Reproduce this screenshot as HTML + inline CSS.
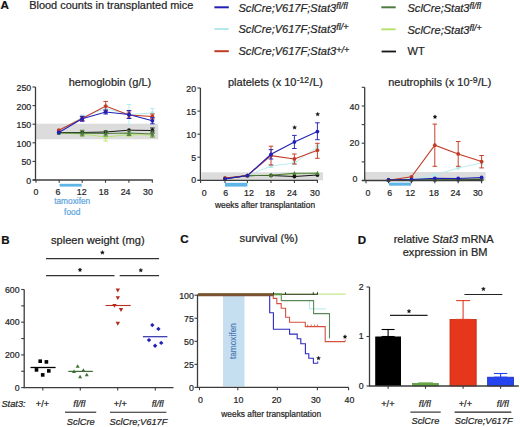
<!DOCTYPE html>
<html><head><meta charset="utf-8"><style>
html,body{margin:0;padding:0;background:#fff;width:520px;height:427px;overflow:hidden}
svg{display:block;font-family:"Liberation Sans",sans-serif}

</style></head><body>
<svg width="520" height="427" viewBox="0 0 520 427">
<text x="0.6" y="9.2" font-size="11.6" text-anchor="start" font-style="normal" font-weight="bold" fill="#111" stroke="#111" stroke-width="0.22" >A</text>
<text x="29.2" y="9.4" font-size="10.95" text-anchor="start" font-style="normal" font-weight="normal" fill="#262626" stroke="#262626" stroke-width="0.22" >Blood counts in transplanted mice</text>
<line x1="214.4" y1="7.3" x2="228.8" y2="7.3" stroke="#2020b8" stroke-width="2.0" />
<text x="238.5" y="11.5" font-size="11.05" font-style="italic" fill="#262626" stroke="#262626" stroke-width="0.22">SclCre;V617F;Stat3<tspan font-size="9" dy="-2.9">fl/fl</tspan></text>
<line x1="214.4" y1="29.0" x2="228.8" y2="29.0" stroke="#b4eaec" stroke-width="2.0" />
<text x="238.5" y="33.2" font-size="11.05" font-style="italic" fill="#262626" stroke="#262626" stroke-width="0.22">SclCre;V617F;Stat3<tspan font-size="9" dy="-2.9">fl/+</tspan></text>
<line x1="214.4" y1="51.2" x2="228.8" y2="51.2" stroke="#c23a24" stroke-width="2.0" />
<text x="238.5" y="55.400000000000006" font-size="11.05" font-style="italic" fill="#262626" stroke="#262626" stroke-width="0.22">SclCre;V617F;Stat3<tspan font-size="9" dy="-2.9">+/+</tspan></text>
<line x1="381.3" y1="7.3" x2="395.7" y2="7.3" stroke="#4e7c3e" stroke-width="2.0" />
<text x="407.5" y="11.5" font-size="11.05" font-style="italic" fill="#262626" stroke="#262626" stroke-width="0.22">SclCre;Stat3<tspan font-size="9" dy="-2.9">fl/fl</tspan></text>
<line x1="381.3" y1="29.3" x2="395.7" y2="29.3" stroke="#b8e272" stroke-width="2.0" />
<text x="407.5" y="33.5" font-size="11.05" font-style="italic" fill="#262626" stroke="#262626" stroke-width="0.22">SclCre;Stat3<tspan font-size="9" dy="-2.9">fl/+</tspan></text>
<line x1="381.6" y1="51.5" x2="396.0" y2="51.5" stroke="#151515" stroke-width="1.8" />
<text x="407.5" y="55.4" font-size="11" text-anchor="start" font-style="normal" font-weight="normal" fill="#262626" stroke="#262626" stroke-width="0.22" >WT</text>
<rect x="36" y="123.7" width="122.30000000000001" height="15.600000000000009" fill="#dcdcdc" />
<polyline points="58.8,133 82.2,134 105.7,137 129.0,134.5 152.4,135" fill="none" stroke="#b8e272" stroke-width="1.1" stroke-linejoin="miter" />
<line x1="82.2" y1="132" x2="82.2" y2="136" stroke="#b8e272" stroke-width="0.95" />
<line x1="79.9" y1="132" x2="84.5" y2="132" stroke="#b8e272" stroke-width="0.95" />
<line x1="79.9" y1="136" x2="84.5" y2="136" stroke="#b8e272" stroke-width="0.95" />
<line x1="105.7" y1="133" x2="105.7" y2="141" stroke="#b8e272" stroke-width="0.95" />
<line x1="103.4" y1="133" x2="108.0" y2="133" stroke="#b8e272" stroke-width="0.95" />
<line x1="103.4" y1="141" x2="108.0" y2="141" stroke="#b8e272" stroke-width="0.95" />
<line x1="129.0" y1="132.5" x2="129.0" y2="136.5" stroke="#b8e272" stroke-width="0.95" />
<line x1="126.7" y1="132.5" x2="131.3" y2="132.5" stroke="#b8e272" stroke-width="0.95" />
<line x1="126.7" y1="136.5" x2="131.3" y2="136.5" stroke="#b8e272" stroke-width="0.95" />
<line x1="152.4" y1="133" x2="152.4" y2="137" stroke="#b8e272" stroke-width="0.95" />
<line x1="150.1" y1="133" x2="154.70000000000002" y2="133" stroke="#b8e272" stroke-width="0.95" />
<line x1="150.1" y1="137" x2="154.70000000000002" y2="137" stroke="#b8e272" stroke-width="0.95" />
<polygon points="58.8,130.795 56.699999999999996,134.68 60.9,134.68" fill="#b8e272"/>
<polygon points="82.2,131.795 80.10000000000001,135.68 84.3,135.68" fill="#b8e272"/>
<polygon points="105.7,134.795 103.60000000000001,138.68 107.8,138.68" fill="#b8e272"/>
<polygon points="129.0,132.295 126.9,136.18 131.1,136.18" fill="#b8e272"/>
<polygon points="152.4,132.795 150.3,136.68 154.5,136.68" fill="#b8e272"/>
<polyline points="58.8,131 82.2,117 105.7,108.5 129.0,114.5 152.4,113" fill="none" stroke="#b4eaec" stroke-width="1.0" stroke-linejoin="miter" />
<line x1="82.2" y1="115" x2="82.2" y2="119" stroke="#b4eaec" stroke-width="0.95" />
<line x1="79.9" y1="115" x2="84.5" y2="115" stroke="#b4eaec" stroke-width="0.95" />
<line x1="79.9" y1="119" x2="84.5" y2="119" stroke="#b4eaec" stroke-width="0.95" />
<line x1="105.7" y1="105.5" x2="105.7" y2="111.5" stroke="#b4eaec" stroke-width="0.95" />
<line x1="103.4" y1="105.5" x2="108.0" y2="105.5" stroke="#b4eaec" stroke-width="0.95" />
<line x1="103.4" y1="111.5" x2="108.0" y2="111.5" stroke="#b4eaec" stroke-width="0.95" />
<line x1="129.0" y1="104.5" x2="129.0" y2="124.5" stroke="#b4eaec" stroke-width="0.95" />
<line x1="126.7" y1="104.5" x2="131.3" y2="104.5" stroke="#b4eaec" stroke-width="0.95" />
<line x1="126.7" y1="124.5" x2="131.3" y2="124.5" stroke="#b4eaec" stroke-width="0.95" />
<line x1="152.4" y1="108.5" x2="152.4" y2="117.5" stroke="#b4eaec" stroke-width="0.95" />
<line x1="150.1" y1="108.5" x2="154.70000000000002" y2="108.5" stroke="#b4eaec" stroke-width="0.95" />
<line x1="150.1" y1="117.5" x2="154.70000000000002" y2="117.5" stroke="#b4eaec" stroke-width="0.95" />
<circle cx="58.8" cy="131" r="1.9" fill="#b4eaec"/>
<circle cx="82.2" cy="117" r="1.9" fill="#b4eaec"/>
<circle cx="105.7" cy="108.5" r="1.9" fill="#b4eaec"/>
<circle cx="129.0" cy="114.5" r="1.9" fill="#b4eaec"/>
<circle cx="152.4" cy="113" r="1.9" fill="#b4eaec"/>
<polyline points="58.8,132.5 82.2,132.5 105.7,132 129.0,130.2 152.4,130.5" fill="none" stroke="#151515" stroke-width="1.0" stroke-linejoin="miter" />
<line x1="152.4" y1="128.0" x2="152.4" y2="133.0" stroke="#151515" stroke-width="0.95" />
<line x1="150.1" y1="128.0" x2="154.70000000000002" y2="128.0" stroke="#151515" stroke-width="0.95" />
<line x1="150.1" y1="133.0" x2="154.70000000000002" y2="133.0" stroke="#151515" stroke-width="0.95" />
<circle cx="58.8" cy="132.5" r="1.9" fill="#151515"/>
<circle cx="82.2" cy="132.5" r="1.9" fill="#151515"/>
<circle cx="105.7" cy="132" r="1.9" fill="#151515"/>
<circle cx="129.0" cy="130.2" r="1.9" fill="#151515"/>
<circle cx="152.4" cy="130.5" r="1.9" fill="#151515"/>
<polyline points="58.8,133 82.2,133.1 105.7,133.5 129.0,133 152.4,134" fill="none" stroke="#4e7c3e" stroke-width="1.1" stroke-linejoin="miter" />
<line x1="82.2" y1="130.29999999999998" x2="82.2" y2="135.9" stroke="#4e7c3e" stroke-width="0.95" />
<line x1="79.9" y1="130.29999999999998" x2="84.5" y2="130.29999999999998" stroke="#4e7c3e" stroke-width="0.95" />
<line x1="79.9" y1="135.9" x2="84.5" y2="135.9" stroke="#4e7c3e" stroke-width="0.95" />
<line x1="105.7" y1="131.0" x2="105.7" y2="136.0" stroke="#4e7c3e" stroke-width="0.95" />
<line x1="103.4" y1="131.0" x2="108.0" y2="131.0" stroke="#4e7c3e" stroke-width="0.95" />
<line x1="103.4" y1="136.0" x2="108.0" y2="136.0" stroke="#4e7c3e" stroke-width="0.95" />
<line x1="129.0" y1="130.5" x2="129.0" y2="135.5" stroke="#4e7c3e" stroke-width="0.95" />
<line x1="126.7" y1="130.5" x2="131.3" y2="130.5" stroke="#4e7c3e" stroke-width="0.95" />
<line x1="126.7" y1="135.5" x2="131.3" y2="135.5" stroke="#4e7c3e" stroke-width="0.95" />
<line x1="152.4" y1="131" x2="152.4" y2="137" stroke="#4e7c3e" stroke-width="0.95" />
<line x1="150.1" y1="131" x2="154.70000000000002" y2="131" stroke="#4e7c3e" stroke-width="0.95" />
<line x1="150.1" y1="137" x2="154.70000000000002" y2="137" stroke="#4e7c3e" stroke-width="0.95" />
<polygon points="58.8,130.795 56.699999999999996,134.68 60.9,134.68" fill="#4e7c3e"/>
<polygon points="82.2,130.89499999999998 80.10000000000001,134.78 84.3,134.78" fill="#4e7c3e"/>
<polygon points="105.7,131.295 103.60000000000001,135.18 107.8,135.18" fill="#4e7c3e"/>
<polygon points="129.0,130.795 126.9,134.68 131.1,134.68" fill="#4e7c3e"/>
<polygon points="152.4,131.795 150.3,135.68 154.5,135.68" fill="#4e7c3e"/>
<polyline points="58.8,130.2 82.2,118.5 105.7,106.1 129.0,115 152.4,116.5" fill="none" stroke="#c23a24" stroke-width="1.1" stroke-linejoin="miter" />
<line x1="82.2" y1="116.5" x2="82.2" y2="120.5" stroke="#c23a24" stroke-width="0.95" />
<line x1="79.9" y1="116.5" x2="84.5" y2="116.5" stroke="#c23a24" stroke-width="0.95" />
<line x1="79.9" y1="120.5" x2="84.5" y2="120.5" stroke="#c23a24" stroke-width="0.95" />
<line x1="105.7" y1="101.39999999999999" x2="105.7" y2="110.8" stroke="#c23a24" stroke-width="0.95" />
<line x1="103.4" y1="101.39999999999999" x2="108.0" y2="101.39999999999999" stroke="#c23a24" stroke-width="0.95" />
<line x1="103.4" y1="110.8" x2="108.0" y2="110.8" stroke="#c23a24" stroke-width="0.95" />
<line x1="129.0" y1="112" x2="129.0" y2="118" stroke="#c23a24" stroke-width="0.95" />
<line x1="126.7" y1="112" x2="131.3" y2="112" stroke="#c23a24" stroke-width="0.95" />
<line x1="126.7" y1="118" x2="131.3" y2="118" stroke="#c23a24" stroke-width="0.95" />
<line x1="152.4" y1="114.0" x2="152.4" y2="119.0" stroke="#c23a24" stroke-width="0.95" />
<line x1="150.1" y1="114.0" x2="154.70000000000002" y2="114.0" stroke="#c23a24" stroke-width="0.95" />
<line x1="150.1" y1="119.0" x2="154.70000000000002" y2="119.0" stroke="#c23a24" stroke-width="0.95" />
<circle cx="58.8" cy="130.2" r="1.9" fill="#c23a24"/>
<circle cx="82.2" cy="118.5" r="1.9" fill="#c23a24"/>
<circle cx="105.7" cy="106.1" r="1.9" fill="#c23a24"/>
<circle cx="129.0" cy="115" r="1.9" fill="#c23a24"/>
<circle cx="152.4" cy="116.5" r="1.9" fill="#c23a24"/>
<polyline points="58.8,132.5 82.2,118.8 105.7,112 129.0,114.5 152.4,120.8" fill="none" stroke="#2020b8" stroke-width="1.1" stroke-linejoin="miter" />
<line x1="82.2" y1="116.3" x2="82.2" y2="121.3" stroke="#2020b8" stroke-width="0.95" />
<line x1="79.9" y1="116.3" x2="84.5" y2="116.3" stroke="#2020b8" stroke-width="0.95" />
<line x1="79.9" y1="121.3" x2="84.5" y2="121.3" stroke="#2020b8" stroke-width="0.95" />
<line x1="105.7" y1="110" x2="105.7" y2="114" stroke="#2020b8" stroke-width="0.95" />
<line x1="103.4" y1="110" x2="108.0" y2="110" stroke="#2020b8" stroke-width="0.95" />
<line x1="103.4" y1="114" x2="108.0" y2="114" stroke="#2020b8" stroke-width="0.95" />
<line x1="129.0" y1="110.5" x2="129.0" y2="118.5" stroke="#2020b8" stroke-width="0.95" />
<line x1="126.7" y1="110.5" x2="131.3" y2="110.5" stroke="#2020b8" stroke-width="0.95" />
<line x1="126.7" y1="118.5" x2="131.3" y2="118.5" stroke="#2020b8" stroke-width="0.95" />
<line x1="152.4" y1="117.8" x2="152.4" y2="123.8" stroke="#2020b8" stroke-width="0.95" />
<line x1="150.1" y1="117.8" x2="154.70000000000002" y2="117.8" stroke="#2020b8" stroke-width="0.95" />
<line x1="150.1" y1="123.8" x2="154.70000000000002" y2="123.8" stroke="#2020b8" stroke-width="0.95" />
<circle cx="58.8" cy="132.5" r="1.9" fill="#2020b8"/>
<circle cx="82.2" cy="118.8" r="1.9" fill="#2020b8"/>
<circle cx="105.7" cy="112" r="1.9" fill="#2020b8"/>
<circle cx="129.0" cy="114.5" r="1.9" fill="#2020b8"/>
<circle cx="152.4" cy="120.8" r="1.9" fill="#2020b8"/>
<line x1="35.5" y1="87.0" x2="35.5" y2="180.6" stroke="#3c3c3c" stroke-width="1.3" />
<line x1="32.7" y1="180.0" x2="152.8" y2="180.0" stroke="#3c3c3c" stroke-width="1.3" />
<line x1="32.5" y1="87" x2="35.5" y2="87" stroke="#3c3c3c" stroke-width="1.1" />
<line x1="32.5" y1="105.6" x2="35.5" y2="105.6" stroke="#3c3c3c" stroke-width="1.1" />
<line x1="32.5" y1="124.2" x2="35.5" y2="124.2" stroke="#3c3c3c" stroke-width="1.1" />
<line x1="32.5" y1="142.8" x2="35.5" y2="142.8" stroke="#3c3c3c" stroke-width="1.1" />
<line x1="32.5" y1="161.4" x2="35.5" y2="161.4" stroke="#3c3c3c" stroke-width="1.1" />
<line x1="32.5" y1="180.0" x2="35.5" y2="180.0" stroke="#3c3c3c" stroke-width="1.1" />
<text x="31.2" y="91.0" font-size="8.8" text-anchor="end" font-style="normal" font-weight="normal" fill="#262626" stroke="#262626" stroke-width="0.22" >250</text>
<text x="31.2" y="109.6" font-size="8.8" text-anchor="end" font-style="normal" font-weight="normal" fill="#262626" stroke="#262626" stroke-width="0.22" >200</text>
<text x="31.2" y="128.2" font-size="8.8" text-anchor="end" font-style="normal" font-weight="normal" fill="#262626" stroke="#262626" stroke-width="0.22" >150</text>
<text x="31.2" y="146.8" font-size="8.8" text-anchor="end" font-style="normal" font-weight="normal" fill="#262626" stroke="#262626" stroke-width="0.22" >100</text>
<text x="31.2" y="165.4" font-size="8.8" text-anchor="end" font-style="normal" font-weight="normal" fill="#262626" stroke="#262626" stroke-width="0.22" >50</text>
<text x="31.2" y="184.0" font-size="8.8" text-anchor="end" font-style="normal" font-weight="normal" fill="#262626" stroke="#262626" stroke-width="0.22" >0</text>
<line x1="36" y1="180.0" x2="36" y2="182.8" stroke="#3c3c3c" stroke-width="1.1" />
<line x1="59.2" y1="180.0" x2="59.2" y2="182.8" stroke="#3c3c3c" stroke-width="1.1" />
<line x1="82.2" y1="180.0" x2="82.2" y2="182.8" stroke="#3c3c3c" stroke-width="1.1" />
<line x1="105.5" y1="180.0" x2="105.5" y2="182.8" stroke="#3c3c3c" stroke-width="1.1" />
<line x1="128.9" y1="180.0" x2="128.9" y2="182.8" stroke="#3c3c3c" stroke-width="1.1" />
<line x1="152.3" y1="180.0" x2="152.3" y2="182.8" stroke="#3c3c3c" stroke-width="1.1" />
<text x="36" y="195.0" font-size="8.8" text-anchor="middle" font-style="normal" font-weight="normal" fill="#262626" stroke="#262626" stroke-width="0.22" >0</text>
<text x="57.9" y="195.0" font-size="8.8" text-anchor="middle" font-style="normal" font-weight="normal" fill="#262626" stroke="#262626" stroke-width="0.22" >6</text>
<text x="81.7" y="195.0" font-size="8.8" text-anchor="middle" font-style="normal" font-weight="normal" fill="#262626" stroke="#262626" stroke-width="0.22" >12</text>
<text x="103.7" y="195.0" font-size="8.8" text-anchor="middle" font-style="normal" font-weight="normal" fill="#262626" stroke="#262626" stroke-width="0.22" >18</text>
<text x="125.6" y="195.0" font-size="8.8" text-anchor="middle" font-style="normal" font-weight="normal" fill="#262626" stroke="#262626" stroke-width="0.22" >24</text>
<text x="147.9" y="195.0" font-size="8.8" text-anchor="middle" font-style="normal" font-weight="normal" fill="#262626" stroke="#262626" stroke-width="0.22" >30</text>
<rect x="59.6" y="183.8" width="22.1" height="2.799999999999983" fill="#5fb5e6" />
<text x="68.7" y="86.2" font-size="11" text-anchor="start" font-style="normal" font-weight="normal" fill="#262626" stroke="#262626" stroke-width="0.22" >hemoglobin (g/L)</text>
<text x="72.2" y="204.0" font-size="8.3" text-anchor="middle" font-style="normal" font-weight="normal" fill="#5ea6dc" stroke="#5ea6dc" stroke-width="0.22" >tamoxifen</text>
<text x="72.2" y="214.8" font-size="8.3" text-anchor="middle" font-style="normal" font-weight="normal" fill="#5ea6dc" stroke="#5ea6dc" stroke-width="0.22" >food</text>
<rect x="201.5" y="172.3" width="121.5" height="8.0" fill="#dcdcdc" />
<polyline points="225.0,178.5 247.4,175.6 271.0,175 294.4,174 317.4,173" fill="none" stroke="#b8e272" stroke-width="1.1" stroke-linejoin="miter" />
<polygon points="225.0,176.295 222.9,180.18 227.1,180.18" fill="#b8e272"/>
<polygon points="247.4,173.39499999999998 245.3,177.28 249.5,177.28" fill="#b8e272"/>
<polygon points="271.0,172.795 268.9,176.68 273.1,176.68" fill="#b8e272"/>
<polygon points="294.4,171.795 292.29999999999995,175.68 296.5,175.68" fill="#b8e272"/>
<polygon points="317.4,170.795 315.29999999999995,174.68 319.5,174.68" fill="#b8e272"/>
<polyline points="225.0,178 247.4,175.6 271.0,166 294.4,163 317.4,147" fill="none" stroke="#b4eaec" stroke-width="0.9" stroke-linejoin="miter" />
<line x1="271.0" y1="164.5" x2="271.0" y2="167.5" stroke="#b4eaec" stroke-width="0.95" />
<line x1="268.7" y1="164.5" x2="273.3" y2="164.5" stroke="#b4eaec" stroke-width="0.95" />
<line x1="268.7" y1="167.5" x2="273.3" y2="167.5" stroke="#b4eaec" stroke-width="0.95" />
<line x1="294.4" y1="161.5" x2="294.4" y2="164.5" stroke="#b4eaec" stroke-width="0.95" />
<line x1="292.09999999999997" y1="161.5" x2="296.7" y2="161.5" stroke="#b4eaec" stroke-width="0.95" />
<line x1="292.09999999999997" y1="164.5" x2="296.7" y2="164.5" stroke="#b4eaec" stroke-width="0.95" />
<line x1="317.4" y1="145" x2="317.4" y2="149" stroke="#b4eaec" stroke-width="0.95" />
<line x1="315.09999999999997" y1="145" x2="319.7" y2="145" stroke="#b4eaec" stroke-width="0.95" />
<line x1="315.09999999999997" y1="149" x2="319.7" y2="149" stroke="#b4eaec" stroke-width="0.95" />
<circle cx="225.0" cy="178" r="1.9" fill="#b4eaec"/>
<circle cx="247.4" cy="175.6" r="1.9" fill="#b4eaec"/>
<circle cx="271.0" cy="166" r="1.9" fill="#b4eaec"/>
<circle cx="294.4" cy="163" r="1.9" fill="#b4eaec"/>
<circle cx="317.4" cy="147" r="1.9" fill="#b4eaec"/>
<polyline points="225.0,178.8 247.4,175.6 271.0,175.5 294.4,176.5 317.4,175" fill="none" stroke="#151515" stroke-width="1.1" stroke-linejoin="miter" />
<circle cx="225.0" cy="178.8" r="1.9" fill="#151515"/>
<circle cx="247.4" cy="175.6" r="1.9" fill="#151515"/>
<circle cx="271.0" cy="175.5" r="1.9" fill="#151515"/>
<circle cx="294.4" cy="176.5" r="1.9" fill="#151515"/>
<circle cx="317.4" cy="175" r="1.9" fill="#151515"/>
<polyline points="225.0,178.5 247.4,175.6 271.0,175.3 294.4,173.3 317.4,173.3" fill="none" stroke="#4e7c3e" stroke-width="1.1" stroke-linejoin="miter" />
<polygon points="225.0,176.295 222.9,180.18 227.1,180.18" fill="#4e7c3e"/>
<polygon points="247.4,173.39499999999998 245.3,177.28 249.5,177.28" fill="#4e7c3e"/>
<polygon points="271.0,173.095 268.9,176.98000000000002 273.1,176.98000000000002" fill="#4e7c3e"/>
<polygon points="294.4,171.095 292.29999999999995,174.98000000000002 296.5,174.98000000000002" fill="#4e7c3e"/>
<polygon points="317.4,171.095 315.29999999999995,174.98000000000002 319.5,174.98000000000002" fill="#4e7c3e"/>
<polyline points="225.0,178 247.4,175.6 271.0,155.6 294.4,159 317.4,150.3" fill="none" stroke="#c23a24" stroke-width="1.1" stroke-linejoin="miter" />
<line x1="271.0" y1="146.2" x2="271.0" y2="165.0" stroke="#c23a24" stroke-width="0.95" />
<line x1="268.7" y1="146.2" x2="273.3" y2="146.2" stroke="#c23a24" stroke-width="0.95" />
<line x1="268.7" y1="165.0" x2="273.3" y2="165.0" stroke="#c23a24" stroke-width="0.95" />
<line x1="294.4" y1="154" x2="294.4" y2="164" stroke="#c23a24" stroke-width="0.95" />
<line x1="292.09999999999997" y1="154" x2="296.7" y2="154" stroke="#c23a24" stroke-width="0.95" />
<line x1="292.09999999999997" y1="164" x2="296.7" y2="164" stroke="#c23a24" stroke-width="0.95" />
<line x1="317.4" y1="143.3" x2="317.4" y2="158.3" stroke="#c23a24" stroke-width="0.95" />
<line x1="315.09999999999997" y1="143.3" x2="319.7" y2="143.3" stroke="#c23a24" stroke-width="0.95" />
<line x1="315.09999999999997" y1="158.3" x2="319.7" y2="158.3" stroke="#c23a24" stroke-width="0.95" />
<circle cx="225.0" cy="178" r="1.9" fill="#c23a24"/>
<circle cx="247.4" cy="175.6" r="1.9" fill="#c23a24"/>
<circle cx="271.0" cy="155.6" r="1.9" fill="#c23a24"/>
<circle cx="294.4" cy="159" r="1.9" fill="#c23a24"/>
<circle cx="317.4" cy="150.3" r="1.9" fill="#c23a24"/>
<polyline points="225.0,178.9 247.4,175.6 271.0,154.3 294.4,141.9 317.4,131.6" fill="none" stroke="#2020b8" stroke-width="1.1" stroke-linejoin="miter" />
<line x1="271.0" y1="149.60000000000002" x2="271.0" y2="159.0" stroke="#2020b8" stroke-width="0.95" />
<line x1="268.7" y1="149.60000000000002" x2="273.3" y2="149.60000000000002" stroke="#2020b8" stroke-width="0.95" />
<line x1="268.7" y1="159.0" x2="273.3" y2="159.0" stroke="#2020b8" stroke-width="0.95" />
<line x1="294.4" y1="135.4" x2="294.4" y2="148.5" stroke="#2020b8" stroke-width="0.95" />
<line x1="292.09999999999997" y1="135.4" x2="296.7" y2="135.4" stroke="#2020b8" stroke-width="0.95" />
<line x1="292.09999999999997" y1="148.5" x2="296.7" y2="148.5" stroke="#2020b8" stroke-width="0.95" />
<line x1="317.4" y1="122.8" x2="317.4" y2="139.7" stroke="#2020b8" stroke-width="0.95" />
<line x1="315.09999999999997" y1="122.8" x2="319.7" y2="122.8" stroke="#2020b8" stroke-width="0.95" />
<line x1="315.09999999999997" y1="139.7" x2="319.7" y2="139.7" stroke="#2020b8" stroke-width="0.95" />
<circle cx="225.0" cy="178.9" r="1.9" fill="#2020b8"/>
<circle cx="247.4" cy="175.6" r="1.9" fill="#2020b8"/>
<circle cx="271.0" cy="154.3" r="1.9" fill="#2020b8"/>
<circle cx="294.4" cy="141.9" r="1.9" fill="#2020b8"/>
<circle cx="317.4" cy="131.6" r="1.9" fill="#2020b8"/>
<line x1="200.4" y1="88.0" x2="200.4" y2="180.9" stroke="#3c3c3c" stroke-width="1.3" />
<line x1="197.6" y1="180.3" x2="318.0" y2="180.3" stroke="#3c3c3c" stroke-width="1.3" />
<line x1="197.4" y1="88" x2="200.4" y2="88" stroke="#3c3c3c" stroke-width="1.1" />
<line x1="197.4" y1="111.1" x2="200.4" y2="111.1" stroke="#3c3c3c" stroke-width="1.1" />
<line x1="197.4" y1="134.2" x2="200.4" y2="134.2" stroke="#3c3c3c" stroke-width="1.1" />
<line x1="197.4" y1="157.2" x2="200.4" y2="157.2" stroke="#3c3c3c" stroke-width="1.1" />
<line x1="197.4" y1="180.3" x2="200.4" y2="180.3" stroke="#3c3c3c" stroke-width="1.1" />
<text x="196.1" y="92.0" font-size="8.8" text-anchor="end" font-style="normal" font-weight="normal" fill="#262626" stroke="#262626" stroke-width="0.22" >20</text>
<text x="196.1" y="115.1" font-size="8.8" text-anchor="end" font-style="normal" font-weight="normal" fill="#262626" stroke="#262626" stroke-width="0.22" >15</text>
<text x="196.1" y="138.2" font-size="8.8" text-anchor="end" font-style="normal" font-weight="normal" fill="#262626" stroke="#262626" stroke-width="0.22" >10</text>
<text x="196.1" y="161.2" font-size="8.8" text-anchor="end" font-style="normal" font-weight="normal" fill="#262626" stroke="#262626" stroke-width="0.22" >5</text>
<text x="196.1" y="182.5" font-size="8.8" text-anchor="end" font-style="normal" font-weight="normal" fill="#262626" stroke="#262626" stroke-width="0.22" >0</text>
<line x1="200.6" y1="180.3" x2="200.6" y2="183.10000000000002" stroke="#3c3c3c" stroke-width="1.1" />
<line x1="225" y1="180.3" x2="225" y2="183.10000000000002" stroke="#3c3c3c" stroke-width="1.1" />
<line x1="247.4" y1="180.3" x2="247.4" y2="183.10000000000002" stroke="#3c3c3c" stroke-width="1.1" />
<line x1="271" y1="180.3" x2="271" y2="183.10000000000002" stroke="#3c3c3c" stroke-width="1.1" />
<line x1="294.4" y1="180.3" x2="294.4" y2="183.10000000000002" stroke="#3c3c3c" stroke-width="1.1" />
<line x1="317.4" y1="180.3" x2="317.4" y2="183.10000000000002" stroke="#3c3c3c" stroke-width="1.1" />
<text x="204.2" y="195.9" font-size="8.8" text-anchor="middle" font-style="normal" font-weight="normal" fill="#262626" stroke="#262626" stroke-width="0.22" >0</text>
<text x="225.8" y="195.9" font-size="8.8" text-anchor="middle" font-style="normal" font-weight="normal" fill="#262626" stroke="#262626" stroke-width="0.22" >6</text>
<text x="249.0" y="195.9" font-size="8.8" text-anchor="middle" font-style="normal" font-weight="normal" fill="#262626" stroke="#262626" stroke-width="0.22" >12</text>
<text x="270.1" y="195.9" font-size="8.8" text-anchor="middle" font-style="normal" font-weight="normal" fill="#262626" stroke="#262626" stroke-width="0.22" >18</text>
<text x="292.0" y="195.9" font-size="8.8" text-anchor="middle" font-style="normal" font-weight="normal" fill="#262626" stroke="#262626" stroke-width="0.22" >24</text>
<text x="314.9" y="195.9" font-size="8.8" text-anchor="middle" font-style="normal" font-weight="normal" fill="#262626" stroke="#262626" stroke-width="0.22" >30</text>
<polygon points="294.60,125.45 295.19,126.69 296.55,126.87 295.55,127.81 295.80,129.16 294.60,128.50 293.40,129.16 293.65,127.81 292.65,126.87 294.01,126.69" fill="#111" stroke="#111" stroke-width="0.35" stroke-linejoin="round"/>
<polygon points="317.70,112.15 318.29,113.39 319.65,113.57 318.65,114.51 318.90,115.86 317.70,115.20 316.50,115.86 316.75,114.51 315.75,113.57 317.11,113.39" fill="#111" stroke="#111" stroke-width="0.35" stroke-linejoin="round"/>
<rect x="225" y="182.8" width="22.400000000000006" height="3.799999999999983" fill="#5fb5e6" />
<text x="228" y="85.8" font-size="11" fill="#262626" stroke="#262626" stroke-width="0.22">platelets (x 10<tspan font-size="8.6" dy="-3" dx="0.2">-12</tspan><tspan dy="3" dx="0.3" font-size="11.6">/L)</tspan></text>
<text x="265" y="208.3" font-size="8.4" text-anchor="middle" font-style="normal" font-weight="normal" fill="#262626" stroke="#262626" stroke-width="0.22" >weeks after transplantation</text>
<rect x="365" y="172.0" width="120.60000000000002" height="8.5" fill="#dcdcdc" />
<polyline points="388.5,180 411.5,179.5 434.8,179.5 458.2,179.5 481.6,179.3" fill="none" stroke="#b8e272" stroke-width="1.1" stroke-linejoin="miter" />
<polygon points="388.5,177.795 386.4,181.68 390.6,181.68" fill="#b8e272"/>
<polygon points="411.5,177.295 409.4,181.18 413.6,181.18" fill="#b8e272"/>
<polygon points="434.8,177.295 432.7,181.18 436.90000000000003,181.18" fill="#b8e272"/>
<polygon points="458.2,177.295 456.09999999999997,181.18 460.3,181.18" fill="#b8e272"/>
<polygon points="481.6,177.095 479.5,180.98000000000002 483.70000000000005,180.98000000000002" fill="#b8e272"/>
<polyline points="388.5,180 411.5,179 434.8,175 458.2,168 481.6,163" fill="none" stroke="#b4eaec" stroke-width="0.9" stroke-linejoin="miter" />
<circle cx="388.5" cy="180" r="1.9" fill="#b4eaec"/>
<circle cx="411.5" cy="179" r="1.9" fill="#b4eaec"/>
<circle cx="434.8" cy="175" r="1.9" fill="#b4eaec"/>
<circle cx="458.2" cy="168" r="1.9" fill="#b4eaec"/>
<circle cx="481.6" cy="163" r="1.9" fill="#b4eaec"/>
<polyline points="388.5,180 411.5,179.7 434.8,179.7 458.2,179.7 481.6,179.5" fill="none" stroke="#151515" stroke-width="1.1" stroke-linejoin="miter" />
<circle cx="388.5" cy="180" r="1.9" fill="#151515"/>
<circle cx="411.5" cy="179.7" r="1.9" fill="#151515"/>
<circle cx="434.8" cy="179.7" r="1.9" fill="#151515"/>
<circle cx="458.2" cy="179.7" r="1.9" fill="#151515"/>
<circle cx="481.6" cy="179.5" r="1.9" fill="#151515"/>
<polyline points="388.5,180 411.5,179.5 434.8,179.5 458.2,179.3 481.6,179" fill="none" stroke="#4e7c3e" stroke-width="1.1" stroke-linejoin="miter" />
<polygon points="388.5,177.795 386.4,181.68 390.6,181.68" fill="#4e7c3e"/>
<polygon points="411.5,177.295 409.4,181.18 413.6,181.18" fill="#4e7c3e"/>
<polygon points="434.8,177.295 432.7,181.18 436.90000000000003,181.18" fill="#4e7c3e"/>
<polygon points="458.2,177.095 456.09999999999997,180.98000000000002 460.3,180.98000000000002" fill="#4e7c3e"/>
<polygon points="481.6,176.795 479.5,180.68 483.70000000000005,180.68" fill="#4e7c3e"/>
<polyline points="388.5,180.3 411.5,176.8 434.8,145.2 458.2,153.9 481.6,161.6" fill="none" stroke="#c23a24" stroke-width="1.1" stroke-linejoin="miter" />
<line x1="434.8" y1="124.1" x2="434.8" y2="166.29999999999998" stroke="#c23a24" stroke-width="0.95" />
<line x1="432.5" y1="124.1" x2="437.1" y2="124.1" stroke="#c23a24" stroke-width="0.95" />
<line x1="432.5" y1="166.29999999999998" x2="437.1" y2="166.29999999999998" stroke="#c23a24" stroke-width="0.95" />
<line x1="458.2" y1="141.5" x2="458.2" y2="166.3" stroke="#c23a24" stroke-width="0.95" />
<line x1="455.9" y1="141.5" x2="460.5" y2="141.5" stroke="#c23a24" stroke-width="0.95" />
<line x1="455.9" y1="166.3" x2="460.5" y2="166.3" stroke="#c23a24" stroke-width="0.95" />
<line x1="481.6" y1="155.5" x2="481.6" y2="167.9" stroke="#c23a24" stroke-width="0.95" />
<line x1="479.3" y1="155.5" x2="483.90000000000003" y2="155.5" stroke="#c23a24" stroke-width="0.95" />
<line x1="479.3" y1="167.9" x2="483.90000000000003" y2="167.9" stroke="#c23a24" stroke-width="0.95" />
<circle cx="388.5" cy="180.3" r="1.9" fill="#c23a24"/>
<circle cx="411.5" cy="176.8" r="1.9" fill="#c23a24"/>
<circle cx="434.8" cy="145.2" r="1.9" fill="#c23a24"/>
<circle cx="458.2" cy="153.9" r="1.9" fill="#c23a24"/>
<circle cx="481.6" cy="161.6" r="1.9" fill="#c23a24"/>
<polyline points="388.5,180 411.5,179.5 434.8,178.3 458.2,178.5 481.6,177.5" fill="none" stroke="#2020b8" stroke-width="1.1" stroke-linejoin="miter" />
<circle cx="388.5" cy="180" r="1.9" fill="#2020b8"/>
<circle cx="411.5" cy="179.5" r="1.9" fill="#2020b8"/>
<circle cx="434.8" cy="178.3" r="1.9" fill="#2020b8"/>
<circle cx="458.2" cy="178.5" r="1.9" fill="#2020b8"/>
<circle cx="481.6" cy="177.5" r="1.9" fill="#2020b8"/>
<line x1="364.7" y1="87.3" x2="364.7" y2="181.1" stroke="#3c3c3c" stroke-width="1.3" />
<line x1="361.9" y1="180.5" x2="482.0" y2="180.5" stroke="#3c3c3c" stroke-width="1.3" />
<line x1="361.7" y1="87.3" x2="364.7" y2="87.3" stroke="#3c3c3c" stroke-width="1.1" />
<line x1="361.7" y1="106" x2="364.7" y2="106" stroke="#3c3c3c" stroke-width="1.1" />
<line x1="361.7" y1="124.6" x2="364.7" y2="124.6" stroke="#3c3c3c" stroke-width="1.1" />
<line x1="361.7" y1="143.2" x2="364.7" y2="143.2" stroke="#3c3c3c" stroke-width="1.1" />
<line x1="361.7" y1="161.9" x2="364.7" y2="161.9" stroke="#3c3c3c" stroke-width="1.1" />
<line x1="361.7" y1="180.5" x2="364.7" y2="180.5" stroke="#3c3c3c" stroke-width="1.1" />
<text x="359.4" y="110.2" font-size="8.8" text-anchor="end" font-style="normal" font-weight="normal" fill="#262626" stroke="#262626" stroke-width="0.22" >40</text>
<text x="359.3" y="146.3" font-size="8.8" text-anchor="end" font-style="normal" font-weight="normal" fill="#262626" stroke="#262626" stroke-width="0.22" >20</text>
<text x="357.5" y="181.6" font-size="8.8" text-anchor="end" font-style="normal" font-weight="normal" fill="#262626" stroke="#262626" stroke-width="0.22" >0</text>
<line x1="366" y1="180.5" x2="366" y2="183.3" stroke="#3c3c3c" stroke-width="1.1" />
<line x1="388.5" y1="180.5" x2="388.5" y2="183.3" stroke="#3c3c3c" stroke-width="1.1" />
<line x1="411.5" y1="180.5" x2="411.5" y2="183.3" stroke="#3c3c3c" stroke-width="1.1" />
<line x1="434.8" y1="180.5" x2="434.8" y2="183.3" stroke="#3c3c3c" stroke-width="1.1" />
<line x1="458.2" y1="180.5" x2="458.2" y2="183.3" stroke="#3c3c3c" stroke-width="1.1" />
<line x1="481.6" y1="180.5" x2="481.6" y2="183.3" stroke="#3c3c3c" stroke-width="1.1" />
<text x="367.9" y="195.8" font-size="8.8" text-anchor="middle" font-style="normal" font-weight="normal" fill="#262626" stroke="#262626" stroke-width="0.22" >0</text>
<text x="389.6" y="195.8" font-size="8.8" text-anchor="middle" font-style="normal" font-weight="normal" fill="#262626" stroke="#262626" stroke-width="0.22" >6</text>
<text x="410.3" y="195.8" font-size="8.8" text-anchor="middle" font-style="normal" font-weight="normal" fill="#262626" stroke="#262626" stroke-width="0.22" >12</text>
<text x="433.9" y="195.8" font-size="8.8" text-anchor="middle" font-style="normal" font-weight="normal" fill="#262626" stroke="#262626" stroke-width="0.22" >18</text>
<text x="455.5" y="195.8" font-size="8.8" text-anchor="middle" font-style="normal" font-weight="normal" fill="#262626" stroke="#262626" stroke-width="0.22" >24</text>
<text x="477.8" y="195.8" font-size="8.8" text-anchor="middle" font-style="normal" font-weight="normal" fill="#262626" stroke="#262626" stroke-width="0.22" >30</text>
<polygon points="435.00,114.85 435.59,116.09 436.95,116.27 435.95,117.21 436.20,118.56 435.00,117.90 433.80,118.56 434.05,117.21 433.05,116.27 434.41,116.09" fill="#111" stroke="#111" stroke-width="0.35" stroke-linejoin="round"/>
<rect x="389" y="182.6" width="22" height="3.0999999999999943" fill="#5fb5e6" />
<text x="388.2" y="85.8" font-size="11" fill="#262626" stroke="#262626" stroke-width="0.22">neutrophils (x 10<tspan font-size="8.8" dy="-3" dx="0.2">-9</tspan><tspan dy="3" dx="0.3" font-size="11.6">/L)</tspan></text>
<text x="1.2" y="244.3" font-size="11.6" text-anchor="start" font-style="normal" font-weight="bold" fill="#111" stroke="#111" stroke-width="0.22" >B</text>
<text x="51" y="243.5" font-size="11.1" text-anchor="start" font-style="normal" font-weight="normal" fill="#262626" stroke="#262626" stroke-width="0.22" >spleen weight (mg)</text>
<line x1="46" y1="258.7" x2="159.1" y2="258.7" stroke="#333" stroke-width="1.2" />
<polygon points="102.40,250.55 102.99,251.79 104.35,251.97 103.35,252.91 103.60,254.26 102.40,253.60 101.20,254.26 101.45,252.91 100.45,251.97 101.81,251.79" fill="#111" stroke="#111" stroke-width="0.35" stroke-linejoin="round"/>
<line x1="46" y1="275.6" x2="114.5" y2="275.6" stroke="#333" stroke-width="1.2" />
<polygon points="80.00,267.85 80.59,269.09 81.95,269.27 80.95,270.21 81.20,271.56 80.00,270.90 78.80,271.56 79.05,270.21 78.05,269.27 79.41,269.09" fill="#111" stroke="#111" stroke-width="0.35" stroke-linejoin="round"/>
<line x1="119.7" y1="275.6" x2="159.1" y2="275.6" stroke="#333" stroke-width="1.2" />
<polygon points="140.80,268.25 141.39,269.49 142.75,269.67 141.75,270.61 142.00,271.96 140.80,271.30 139.60,271.96 139.85,270.61 138.85,269.67 140.21,269.49" fill="#111" stroke="#111" stroke-width="0.35" stroke-linejoin="round"/>
<line x1="24.2" y1="289.5" x2="24.2" y2="388.2" stroke="#3c3c3c" stroke-width="1.3" />
<line x1="24.2" y1="387.6" x2="173.5" y2="387.6" stroke="#3c3c3c" stroke-width="1.3" />
<line x1="21.2" y1="289.5" x2="24.2" y2="289.5" stroke="#3c3c3c" stroke-width="1.1" />
<text x="19.6" y="292.5" font-size="8.8" text-anchor="end" font-style="normal" font-weight="normal" fill="#262626" stroke="#262626" stroke-width="0.22" >600</text>
<line x1="21.2" y1="305.85" x2="24.2" y2="305.85" stroke="#3c3c3c" stroke-width="1.1" />
<line x1="21.2" y1="322.2" x2="24.2" y2="322.2" stroke="#3c3c3c" stroke-width="1.1" />
<text x="19.6" y="325.2" font-size="8.8" text-anchor="end" font-style="normal" font-weight="normal" fill="#262626" stroke="#262626" stroke-width="0.22" >400</text>
<line x1="21.2" y1="338.55" x2="24.2" y2="338.55" stroke="#3c3c3c" stroke-width="1.1" />
<line x1="21.2" y1="354.9" x2="24.2" y2="354.9" stroke="#3c3c3c" stroke-width="1.1" />
<text x="19.6" y="357.9" font-size="8.8" text-anchor="end" font-style="normal" font-weight="normal" fill="#262626" stroke="#262626" stroke-width="0.22" >200</text>
<line x1="21.2" y1="371.25" x2="24.2" y2="371.25" stroke="#3c3c3c" stroke-width="1.1" />
<line x1="21.2" y1="387.6" x2="24.2" y2="387.6" stroke="#3c3c3c" stroke-width="1.1" />
<text x="19.6" y="390.6" font-size="8.8" text-anchor="end" font-style="normal" font-weight="normal" fill="#262626" stroke="#262626" stroke-width="0.22" >0</text>
<line x1="42.8" y1="387.6" x2="42.8" y2="390.4" stroke="#3c3c3c" stroke-width="1.1" />
<line x1="80.3" y1="387.6" x2="80.3" y2="390.4" stroke="#3c3c3c" stroke-width="1.1" />
<line x1="117.7" y1="387.6" x2="117.7" y2="390.4" stroke="#3c3c3c" stroke-width="1.1" />
<line x1="155.3" y1="387.6" x2="155.3" y2="390.4" stroke="#3c3c3c" stroke-width="1.1" />
<rect x="38.400000000000006" y="359.4" width="3.6" height="3.6" fill="#000" />
<rect x="44.6" y="360.09999999999997" width="3.6" height="3.6" fill="#000" />
<rect x="34.7" y="368.09999999999997" width="3.6" height="3.6" fill="#000" />
<rect x="47.0" y="369.09999999999997" width="3.6" height="3.6" fill="#000" />
<rect x="40.900000000000006" y="373.09999999999997" width="3.6" height="3.6" fill="#000" />
<line x1="30.5" y1="367.5" x2="55.6" y2="367.5" stroke="#000" stroke-width="1.3" />
<polygon points="77.7,364.2 75.7,367.7 79.7,367.7" fill="#3f7035"/>
<polygon points="74,369.6 72.0,373.1 76.0,373.1" fill="#3f7035"/>
<polygon points="83.4,368.2 81.4,371.7 85.4,371.7" fill="#3f7035"/>
<polygon points="80.1,374.7 78.1,378.2 82.1,378.2" fill="#3f7035"/>
<polygon points="86.8,372.8 84.8,376.3 88.8,376.3" fill="#3f7035"/>
<line x1="68.3" y1="371.4" x2="92.8" y2="371.4" stroke="#3f6a35" stroke-width="1.2" />
<polygon points="115.6,288.6 120.0,288.6 117.8,292.5" fill="#b02c1c"/>
<polygon points="115.6,296.2 120.0,296.2 117.8,300.09999999999997" fill="#b02c1c"/>
<polygon points="112.3,303.90000000000003 116.7,303.90000000000003 114.5,307.8" fill="#b02c1c"/>
<polygon points="118.8,308.1 123.2,308.1 121,312.0" fill="#b02c1c"/>
<polygon points="115.6,321.8 120.0,321.8 117.8,325.7" fill="#b02c1c"/>
<line x1="105.5" y1="305.5" x2="130.7" y2="305.5" stroke="#b83020" stroke-width="1.1" />
<polygon points="152.3,322.90000000000003 154.5,325.1 152.3,327.3 150.10000000000002,325.1" fill="#2020b4"/>
<polygon points="158.4,326.7 160.6,328.9 158.4,331.09999999999997 156.20000000000002,328.9" fill="#2020b4"/>
<polygon points="149,337.90000000000003 151.2,340.1 149,342.3 146.8,340.1" fill="#2020b4"/>
<polygon points="155.1,343.5 157.29999999999998,345.7 155.1,347.9 152.9,345.7" fill="#2020b4"/>
<polygon points="161.2,340.7 163.39999999999998,342.9 161.2,345.09999999999997 159.0,342.9" fill="#2020b4"/>
<line x1="142.9" y1="336.7" x2="167.4" y2="336.7" stroke="#2e2eaa" stroke-width="1.2" />
<text x="1.4" y="407.4" font-size="9.3" text-anchor="start" font-style="italic" font-weight="normal" fill="#262626" stroke="#262626" stroke-width="0.22" >Stat3:</text>
<text x="42.5" y="407.4" font-size="9.2" text-anchor="middle" font-style="normal" font-weight="normal" fill="#262626" stroke="#262626" stroke-width="0.22" >+/+</text>
<text x="79.3" y="407.4" font-size="9.3" text-anchor="middle" font-style="italic" font-weight="normal" fill="#262626" stroke="#262626" stroke-width="0.22" >fl/fl</text>
<text x="120.3" y="407.4" font-size="9.2" text-anchor="middle" font-style="normal" font-weight="normal" fill="#262626" stroke="#262626" stroke-width="0.22" >+/+</text>
<text x="157.7" y="407.4" font-size="9.3" text-anchor="middle" font-style="italic" font-weight="normal" fill="#262626" stroke="#262626" stroke-width="0.22" >fl/fl</text>
<line x1="65" y1="412.2" x2="96.2" y2="412.2" stroke="#222" stroke-width="1.1" />
<line x1="110.0" y1="412.2" x2="166.4" y2="412.2" stroke="#222" stroke-width="1.1" />
<text x="80.8" y="424.8" font-size="9.3" text-anchor="middle" font-style="italic" font-weight="normal" fill="#262626" stroke="#262626" stroke-width="0.22" >SclCre</text>
<text x="138.5" y="424.8" font-size="9.3" text-anchor="middle" font-style="italic" font-weight="normal" fill="#262626" stroke="#262626" stroke-width="0.22" >SclCre;V617F</text>
<text x="180.3" y="243.4" font-size="11.6" text-anchor="start" font-style="normal" font-weight="bold" fill="#111" stroke="#111" stroke-width="0.22" >C</text>
<text x="239.6" y="241.9" font-size="11.2" text-anchor="start" font-style="normal" font-weight="normal" fill="#262626" stroke="#262626" stroke-width="0.22" >survival (%)</text>
<rect x="223" y="296" width="21.5" height="90.4" fill="#c5dff1" />
<text x="0" y="0" font-size="8.3" fill="#4a78b4" stroke="#4a78b4" stroke-width="0.15" text-anchor="middle" transform="translate(236.1,341.1) rotate(-90)">tamoxifen</text>
<line x1="197.5" y1="294.4" x2="197.5" y2="388.0" stroke="#3c3c3c" stroke-width="1.3" />
<line x1="197.5" y1="387.4" x2="348.8" y2="387.4" stroke="#3c3c3c" stroke-width="1.3" />
<line x1="194.5" y1="295.2" x2="197.5" y2="295.2" stroke="#3c3c3c" stroke-width="1.1" />
<text x="193.9" y="299.2" font-size="8.8" text-anchor="end" font-style="normal" font-weight="normal" fill="#262626" stroke="#262626" stroke-width="0.22" >100</text>
<line x1="194.5" y1="318.25" x2="197.5" y2="318.25" stroke="#3c3c3c" stroke-width="1.1" />
<text x="193.9" y="322.25" font-size="8.8" text-anchor="end" font-style="normal" font-weight="normal" fill="#262626" stroke="#262626" stroke-width="0.22" >75</text>
<line x1="194.5" y1="341.3" x2="197.5" y2="341.3" stroke="#3c3c3c" stroke-width="1.1" />
<text x="193.9" y="345.3" font-size="8.8" text-anchor="end" font-style="normal" font-weight="normal" fill="#262626" stroke="#262626" stroke-width="0.22" >50</text>
<line x1="194.5" y1="364.35" x2="197.5" y2="364.35" stroke="#3c3c3c" stroke-width="1.1" />
<text x="193.9" y="368.35" font-size="8.8" text-anchor="end" font-style="normal" font-weight="normal" fill="#262626" stroke="#262626" stroke-width="0.22" >25</text>
<line x1="194.5" y1="387.4" x2="197.5" y2="387.4" stroke="#3c3c3c" stroke-width="1.1" />
<text x="193.9" y="391.4" font-size="8.8" text-anchor="end" font-style="normal" font-weight="normal" fill="#262626" stroke="#262626" stroke-width="0.22" >0</text>
<line x1="199.5" y1="387.4" x2="199.5" y2="390.2" stroke="#3c3c3c" stroke-width="1.1" />
<text x="200.5" y="402.8" font-size="8.8" text-anchor="middle" font-style="normal" font-weight="normal" fill="#262626" stroke="#262626" stroke-width="0.22" >0</text>
<line x1="237.8" y1="387.4" x2="237.8" y2="390.2" stroke="#3c3c3c" stroke-width="1.1" />
<text x="238.4" y="402.8" font-size="8.8" text-anchor="middle" font-style="normal" font-weight="normal" fill="#262626" stroke="#262626" stroke-width="0.22" >10</text>
<line x1="277.3" y1="387.4" x2="277.3" y2="390.2" stroke="#3c3c3c" stroke-width="1.1" />
<text x="276.6" y="402.8" font-size="8.8" text-anchor="middle" font-style="normal" font-weight="normal" fill="#262626" stroke="#262626" stroke-width="0.22" >20</text>
<line x1="317.4" y1="387.4" x2="317.4" y2="390.2" stroke="#3c3c3c" stroke-width="1.1" />
<text x="315.8" y="402.8" font-size="8.8" text-anchor="middle" font-style="normal" font-weight="normal" fill="#262626" stroke="#262626" stroke-width="0.22" >30</text>
<line x1="348.6" y1="387.4" x2="348.6" y2="390.2" stroke="#3c3c3c" stroke-width="1.1" />
<text x="349.5" y="402.8" font-size="8.8" text-anchor="middle" font-style="normal" font-weight="normal" fill="#262626" stroke="#262626" stroke-width="0.22" >40</text>
<text x="271.2" y="416.6" font-size="8.35" text-anchor="middle" font-style="normal" font-weight="normal" fill="#262626" stroke="#262626" stroke-width="0.22" >weeks after transplantation</text>
<polyline points="198,294.2 345.7,294.2" fill="none" stroke="#c8e890" stroke-width="1.3" stroke-linejoin="miter" />
<polyline points="309.5,300.6 309.5,308.9 326,308.9" fill="none" stroke="#b4eaec" stroke-width="1.0" stroke-linejoin="miter" />
<polyline points="198,294.4 317.8,294.4" fill="none" stroke="#4a5a38" stroke-width="1.1" stroke-linejoin="miter" />
<polyline points="198,294.4 281.3,294.4 281.3,300.6 313.6,300.6 313.6,313.6 329.5,313.6 329.5,338.2" fill="none" stroke="#5a8a58" stroke-width="1.1" stroke-linejoin="miter" />
<polyline points="198,294.6 273.3,294.6 273.3,298.4 276.8,298.4 276.8,303.6 281.2,303.6 281.2,308.2 285.6,308.2 285.6,317.2 289.5,317.2 289.5,322.2 305.3,322.2 305.3,326.6 325.2,326.6 325.2,341.6 345.2,341.6" fill="none" stroke="#d65040" stroke-width="1.1" stroke-linejoin="miter" />
<polyline points="198,294.8 269.7,294.8 269.7,312.8 273.4,312.8 273.4,329.2 289.6,329.2 289.6,334.1 297.2,334.1 297.2,338.8 300.8,338.8 300.8,343.8 305.4,343.8 305.4,353.7 308.8,353.7 308.8,358.3 313.4,358.3 313.4,363.3 317.8,363.3" fill="none" stroke="#2a2ac0" stroke-width="1.1" stroke-linejoin="miter" />
<line x1="198" y1="294.8" x2="273.8" y2="294.8" stroke="#7a5432" stroke-width="3.0" />
<line x1="273.8" y1="294.3" x2="281.4" y2="294.3" stroke="#5f9a40" stroke-width="2.0" />
<line x1="273.5" y1="292.2" x2="273.5" y2="294.4" stroke="#222" stroke-width="0.9" />
<line x1="285.5" y1="292.2" x2="285.5" y2="294.4" stroke="#222" stroke-width="0.9" />
<line x1="313.3" y1="292.2" x2="313.3" y2="294.4" stroke="#222" stroke-width="0.9" />
<line x1="317.5" y1="292.2" x2="317.5" y2="294.4" stroke="#222" stroke-width="0.9" />
<line x1="307.7" y1="324.6" x2="307.7" y2="326.6" stroke="#d65040" stroke-width="0.9" />
<line x1="311.2" y1="324.6" x2="311.2" y2="326.6" stroke="#d65040" stroke-width="0.9" />
<line x1="314.7" y1="324.6" x2="314.7" y2="326.6" stroke="#d65040" stroke-width="0.9" />
<line x1="317.6" y1="324.6" x2="317.6" y2="326.6" stroke="#d65040" stroke-width="0.9" />
<line x1="345.2" y1="339.6" x2="345.2" y2="341.6" stroke="#d65040" stroke-width="0.9" />
<line x1="317.8" y1="361.3" x2="317.8" y2="363.3" stroke="#2a2ac0" stroke-width="0.9" />
<polygon points="345.00,334.75 345.59,335.99 346.95,336.17 345.95,337.11 346.20,338.46 345.00,337.80 343.80,338.46 344.05,337.11 343.05,336.17 344.41,335.99" fill="#111" stroke="#111" stroke-width="0.35" stroke-linejoin="round"/>
<polygon points="318.50,356.15 319.09,357.39 320.45,357.57 319.45,358.51 319.70,359.86 318.50,359.20 317.30,359.86 317.55,358.51 316.55,357.57 317.91,357.39" fill="#111" stroke="#111" stroke-width="0.35" stroke-linejoin="round"/>
<text x="357.8" y="243.5" font-size="11.6" text-anchor="start" font-style="normal" font-weight="bold" fill="#111" stroke="#111" stroke-width="0.22" >D</text>
<text x="443.7" y="242.9" font-size="11.05" text-anchor="middle" fill="#262626" stroke="#262626" stroke-width="0.22">relative <tspan font-style="italic">Stat3</tspan> mRNA</text>
<text x="445.1" y="256.1" font-size="11.05" text-anchor="middle" font-style="normal" font-weight="normal" fill="#262626" stroke="#262626" stroke-width="0.22" >expression in BM</text>
<rect x="375.2" y="336.5" width="25.8" height="49.5" fill="#000" />
<line x1="388.1" y1="329.5" x2="388.1" y2="336.5" stroke="#000" stroke-width="1.1" />
<line x1="381.6" y1="329.5" x2="394.6" y2="329.5" stroke="#000" stroke-width="1.1" />
<line x1="381.6" y1="336.5" x2="394.6" y2="336.5" stroke="#000" stroke-width="1.1" />
<rect x="412.6" y="383.4" width="25.9" height="2.6" fill="#62a83e" stroke="#4a8a2e" stroke-width="0.6"/>
<line x1="418" y1="382.8" x2="433" y2="382.8" stroke="#62a83e" stroke-width="0.9" />
<rect x="450.0" y="319.4" width="26.2" height="66.6" fill="#e6361c" stroke="#c42a10" stroke-width="0.8"/>
<line x1="463.1" y1="300.6" x2="463.1" y2="319.4" stroke="#e04028" stroke-width="1.1" />
<line x1="456.1" y1="300.6" x2="470.1" y2="300.6" stroke="#e04028" stroke-width="1.1" />
<line x1="456.1" y1="319.4" x2="470.1" y2="319.4" stroke="#e04028" stroke-width="1.1" />
<rect x="487.6" y="377.2" width="26.0" height="8.8" fill="#2444f0" stroke="#1a30c0" stroke-width="0.8"/>
<line x1="500.6" y1="373.5" x2="500.6" y2="377.2" stroke="#2444f0" stroke-width="1.1" />
<line x1="493.90000000000003" y1="373.5" x2="507.3" y2="373.5" stroke="#2444f0" stroke-width="1.1" />
<line x1="493.90000000000003" y1="377.2" x2="507.3" y2="377.2" stroke="#2444f0" stroke-width="1.1" />
<line x1="369.5" y1="287" x2="369.5" y2="386.6" stroke="#3c3c3c" stroke-width="1.3" />
<line x1="369.5" y1="386" x2="518.8" y2="386" stroke="#3c3c3c" stroke-width="1.3" />
<line x1="366.5" y1="287" x2="369.5" y2="287" stroke="#3c3c3c" stroke-width="1.1" />
<text x="361.2" y="289.6" font-size="8.8" text-anchor="middle" font-style="normal" font-weight="normal" fill="#262626" stroke="#262626" stroke-width="0.22" >2</text>
<line x1="366.5" y1="336.5" x2="369.5" y2="336.5" stroke="#3c3c3c" stroke-width="1.1" />
<text x="361.2" y="339.1" font-size="8.8" text-anchor="middle" font-style="normal" font-weight="normal" fill="#262626" stroke="#262626" stroke-width="0.22" >1</text>
<line x1="366.5" y1="386" x2="369.5" y2="386" stroke="#3c3c3c" stroke-width="1.1" />
<text x="361.2" y="388.6" font-size="8.8" text-anchor="middle" font-style="normal" font-weight="normal" fill="#262626" stroke="#262626" stroke-width="0.22" >0</text>
<line x1="388.1" y1="386" x2="388.1" y2="388.8" stroke="#3c3c3c" stroke-width="1.1" />
<line x1="425.5" y1="386" x2="425.5" y2="388.8" stroke="#3c3c3c" stroke-width="1.1" />
<line x1="463.1" y1="386" x2="463.1" y2="388.8" stroke="#3c3c3c" stroke-width="1.1" />
<line x1="500.6" y1="386" x2="500.6" y2="388.8" stroke="#3c3c3c" stroke-width="1.1" />
<line x1="390" y1="315.4" x2="427.6" y2="315.4" stroke="#222" stroke-width="1.2" />
<polygon points="409.00,309.15 409.59,310.39 410.95,310.57 409.95,311.51 410.20,312.86 409.00,312.20 407.80,312.86 408.05,311.51 407.05,310.57 408.41,310.39" fill="#111" stroke="#111" stroke-width="0.35" stroke-linejoin="round"/>
<line x1="464.4" y1="294.5" x2="502.3" y2="294.5" stroke="#222" stroke-width="1.2" />
<polygon points="483.40,286.95 483.99,288.19 485.35,288.37 484.35,289.31 484.60,290.66 483.40,290.00 482.20,290.66 482.45,289.31 481.45,288.37 482.81,288.19" fill="#111" stroke="#111" stroke-width="0.35" stroke-linejoin="round"/>
<text x="387.9" y="407.2" font-size="9.2" text-anchor="middle" font-style="normal" font-weight="normal" fill="#262626" stroke="#262626" stroke-width="0.22" >+/+</text>
<text x="424.8" y="407.2" font-size="9.3" text-anchor="middle" font-style="italic" font-weight="normal" fill="#262626" stroke="#262626" stroke-width="0.22" >fl/fl</text>
<text x="465.4" y="407.2" font-size="9.2" text-anchor="middle" font-style="normal" font-weight="normal" fill="#262626" stroke="#262626" stroke-width="0.22" >+/+</text>
<text x="502.8" y="407.2" font-size="9.3" text-anchor="middle" font-style="italic" font-weight="normal" fill="#262626" stroke="#262626" stroke-width="0.22" >fl/fl</text>
<line x1="410.4" y1="412.1" x2="440.7" y2="412.1" stroke="#222" stroke-width="1.1" />
<line x1="454.6" y1="412.1" x2="511.3" y2="412.1" stroke="#222" stroke-width="1.1" />
<text x="425.4" y="424.2" font-size="9.3" text-anchor="middle" font-style="italic" font-weight="normal" fill="#262626" stroke="#262626" stroke-width="0.22" >SclCre</text>
<text x="483.7" y="424.2" font-size="9.3" text-anchor="middle" font-style="italic" font-weight="normal" fill="#262626" stroke="#262626" stroke-width="0.22" >SclCre;V617F</text>
</svg></body></html>
